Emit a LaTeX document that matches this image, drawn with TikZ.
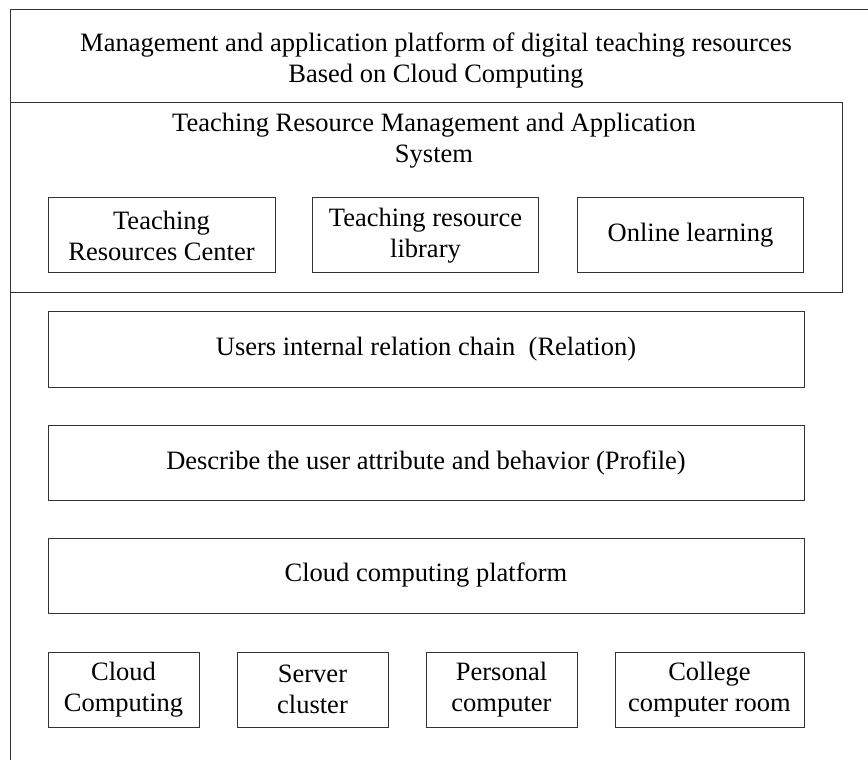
\documentclass[tikz,border=0pt]{standalone}
\usepackage{fontspec}
\setmainfont{Liberation Serif}
\begin{document}
\begin{tikzpicture}[x=1pt,y=-1pt,
  frame/.style={draw=black!80,line width=1pt},
  box/.style={frame,inner sep=0pt,align=center,font=\fontsize{26.5}{31}\selectfont},
  label/.style={inner sep=0pt,align=center,font=\fontsize{26.5}{31}\selectfont}]
\useasboundingbox (0,0) rectangle (868,762);
% outer frame lines
\coordinate (tl) at (10,10);
\coordinate (tr) at (868,10);
\coordinate (bl) at (10,760);
\draw[frame] (tr) -- (tl) -- (bl);
\node[label] (title) at (436,61) {Management and application platform of digital teaching resources\\Based on Cloud Computing};
% system box
\node[frame,inner sep=0pt,minimum width=832,minimum height=190] (sys) at (426,198) {};
\node[label] (systitle) at (434,141) {Teaching Resource Management and Application\\System};
\node[box,minimum width=227,minimum height=75] (trc) at (161.5,235.5) {Teaching\\Resources Center};
\node[box,minimum width=226,minimum height=75] (trl) at (425.5,235.5) {Teaching resource\\library};
\node[box,minimum width=226,minimum height=75] (ol) at (690.5,235.5) {Online learning};
% layers
\node[box,minimum width=756,minimum height=75] (rel) at (426,349.5) {Users internal relation chain~~(Relation)};
\node[box,minimum width=756,minimum height=75] (prof) at (426,462.5) {Describe the user attribute and behavior (Profile)};
\node[box,minimum width=756,minimum height=75] (ccp) at (426,575.5) {Cloud computing platform};
% bottom
\node[box,minimum width=151,minimum height=75] (cc) at (123.5,689.5) {Cloud\\Computing};
\node[box,minimum width=151,minimum height=75] (sc) at (312.5,689.5) {Server\\cluster};
\node[box,minimum width=151,minimum height=75] (pc) at (501.5,689.5) {Personal\\computer};
\node[box,minimum width=189,minimum height=75] (ccr) at (709.5,689.5) {College\\computer room};
\end{tikzpicture}
\end{document}
